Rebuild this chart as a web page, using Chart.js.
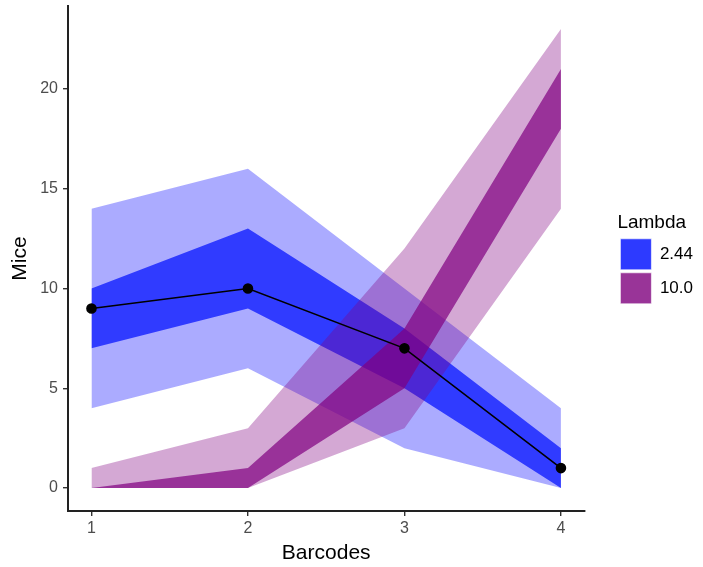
<!DOCTYPE html>
<html>
<head>
<meta charset="utf-8">
<script src="https://cdn.jsdelivr.net/npm/chart.js@4.4.0/dist/chart.umd.min.js"></script>
<style>
  html, body { margin: 0; padding: 0; background: #fff; }
  #wrap { width: 703px; height: 567px; }
</style>
</head>
<body>
<div id="wrap"><canvas id="miceChart"></canvas></div>
<script>
// datos
const barcodes = [1, 2, 3, 4];
const miceLine = [9, 10, 7, 1];

const blueOuterLow  = [4, 6, 2, 0];
const blueOuterHigh = [14, 16, 10, 4];
const blueInnerLow  = [7, 9, 5, 0];
const blueInnerHigh = [10, 13, 8, 2];

const purpleOuterLow  = [0, 0, 3, 14];
const purpleOuterHigh = [1, 3, 12, 23];
const purpleInnerLow  = [0, 0, 5, 18];
const purpleInnerHigh = [0, 1, 8, 21];

const yTicks = [0, 5, 10, 15, 20];
const lambdaLabels = ['2.44', '10.0'];

const FONT = '"Liberation Sans", Arial, Helvetica, sans-serif';
Chart.defaults.font.family = FONT;

const pts = arr => arr.map((v, i) => ({ x: barcodes[i], y: v }));

// banda: limite superior rellena hasta el siguiente dataset (limite inferior)
function band(high, low, color) {
  return [
    { data: pts(high), fill: '+1', backgroundColor: color, borderWidth: 0,
      borderColor: 'rgba(0,0,0,0)', pointRadius: 0, tension: 0 },
    { data: pts(low), fill: false, borderWidth: 0,
      borderColor: 'rgba(0,0,0,0)', pointRadius: 0, tension: 0 }
  ];
}

// el indice 0 se dibuja encima
const datasets = [
  {
    data: pts(miceLine),
    borderColor: '#000',
    borderWidth: 1.6,
    pointRadius: 4.5,
    pointBackgroundColor: '#000',
    pointBorderColor: '#000',
    fill: false,
    tension: 0
  },
  ...band(purpleInnerHigh, purpleInnerLow, 'rgba(128,0,128,0.7)'),
  ...band(purpleOuterHigh, purpleOuterLow, 'rgba(128,0,128,0.34)'),
  ...band(blueInnerHigh, blueInnerLow, 'rgba(0,15,255,0.72)'),
  ...band(blueOuterHigh, blueOuterLow, 'rgba(0,0,255,0.33)')
];

const legendColors = ['rgb(45,58,255)', 'rgb(153,52,152)'];

const noPadY = s => { s.width = 68; s.paddingTop = 0; s.paddingBottom = 0; };
const noPadX = s => { s.height = 56; s.paddingLeft = 0; s.paddingRight = 0; };

new Chart(document.getElementById('miceChart'), {
  type: 'line',
  data: { datasets },
  options: {
    responsive: true,
    maintainAspectRatio: false,
    animation: false,
    layout: { padding: { top: 6, right: 0, left: 0, bottom: 0 } },
    scales: {
      x: {
        type: 'linear',
        min: 0.85,
        max: 4.15,
        afterBuildTicks: s => { s.ticks = barcodes.map(v => ({ value: v })); },
        afterFit: noPadX,
        grid: { drawOnChartArea: false, drawTicks: true, tickLength: 5, color: '#333', lineWidth: 1.4 },
        border: { color: '#222', width: 2 },
        ticks: { color: '#4d4d4d', font: { size: 16 }, padding: 3, callback: v => String(v) },
        title: { display: true, text: 'Barcodes', color: '#000', font: { size: 21 }, padding: { top: 0, bottom: 1 } }
      },
      y: {
        min: -1.15,
        max: 24.15,
        afterBuildTicks: s => { s.ticks = yTicks.map(v => ({ value: v })); },
        afterFit: noPadY,
        grid: { drawOnChartArea: false, drawTicks: true, tickLength: 5, color: '#333', lineWidth: 1.4 },
        border: { color: '#222', width: 2 },
        ticks: { color: '#4d4d4d', font: { size: 16 }, padding: 5, callback: v => String(v) },
        title: { display: true, text: 'Mice', color: '#000', font: { size: 21 }, padding: { top: 8, bottom: 0 } }
      },
      // hueco entre el panel y la leyenda
      gap: {
        position: 'right',
        display: true,
        min: 0, max: 1,
        afterFit: s => { s.width = 33; s.paddingTop = 0; s.paddingBottom = 0; },
        grid: { display: false },
        border: { display: false },
        ticks: { display: false }
      }
    },
    plugins: {
      legend: {
        position: 'right',
        align: 'start',
        title: { display: true, text: 'Lambda', color: '#000', font: { size: 19 }, position: 'start', padding: { top: 207, bottom: 0 } },
        labels: {
          boxWidth: 31,
          boxHeight: 31,
          padding: 3,
          color: '#000',
          font: { size: 17 },
          generateLabels: () => lambdaLabels.map((t, i) => ({
            text: t,
            fillStyle: legendColors[i],
            strokeStyle: 'rgba(255,255,255,0.6)',
            lineWidth: 1,
            hidden: false,
            datasetIndex: i
          }))
        },
        onClick: () => {}
      },
      tooltip: { enabled: false },
      filler: { propagate: false }
    }
  }
});
</script>
</body>
</html>
